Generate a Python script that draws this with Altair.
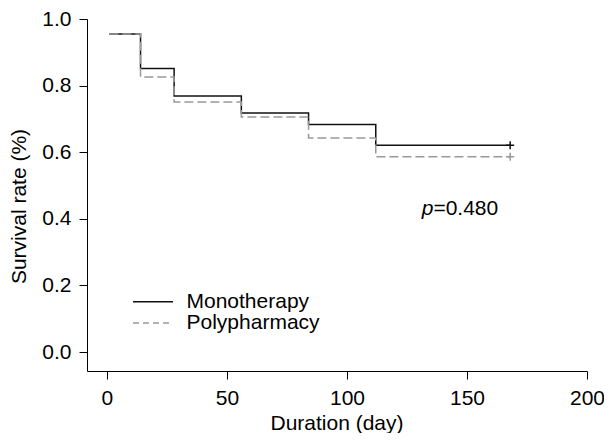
import altair as alt
import pandas as pd

# ---- data ----
days = [1, 14, 28, 56, 84, 112, 168]
mono = [0.955, 0.851, 0.769, 0.718, 0.683, 0.621, 0.621]
poly = [0.955, 0.826, 0.751, 0.706, 0.643, 0.586, 0.586]
groups = ["Monotherapy", "Polypharmacy"]
censor_day = 168
x_ticks = [0, 50, 100, 150, 200]
y_ticks = [0.0, 0.2, 0.4, 0.6, 0.8, 1.0]
p_parts = ["p", "=0.480"]
p_anchor_day = 136
p_anchor_surv = 0.411

FONT = "Liberation Sans"
FS = 21
colors = ["#111111", "#999999"]
dashes = [[1, 0], [9, 4]]

rows = []
for g, vals in zip(groups, [mono, poly]):
    for d, v in zip(days, vals):
        rows.append({"day": d, "surv": v, "group": g})
df = pd.DataFrame(rows)
cens = pd.DataFrame({"day": [censor_day] * 2, "surv": [mono[-1], poly[-1]], "group": groups})

xscale = alt.Scale(domain=[-8.3, 200], nice=False, zero=False)
yscale = alt.Scale(domain=[-0.057, 1.0], nice=False, zero=False)

xaxis = alt.Axis(values=x_ticks, title="Duration (day)", grid=False,
                 domainColor="black", tickColor="black", tickSize=8,
                 labelFontSize=FS, labelFont=FONT, labelColor="black",
                 labelPadding=8, labelFlush=False,
                 titleFont=FONT, titleFontSize=FS, titleFontWeight="normal",
                 titleColor="black", titleBaseline="alphabetic",
                 titleX=249.5, titleY=58)
yaxis = alt.Axis(values=y_ticks, format=".1f", title="Survival rate (%)", grid=False,
                 domainColor="black", tickColor="black", tickSize=8,
                 labelFontSize=FS, labelFont=FONT, labelColor="black",
                 labelPadding=8, labelFlush=False,
                 titleFont=FONT, titleFontSize=FS, titleFontWeight="normal",
                 titleColor="black", titleBaseline="alphabetic",
                 titleX=-61.5, titleY=187)

color_scale = alt.Scale(domain=groups, range=colors)
dash_scale = alt.Scale(domain=groups, range=dashes)

lines = alt.Chart(df).mark_line(interpolate="step-after", strokeWidth=1.5).encode(
    x=alt.X("day:Q", scale=xscale, axis=xaxis),
    y=alt.Y("surv:Q", scale=yscale, axis=yaxis),
    color=alt.Color("group:N", scale=color_scale, legend=None),
    strokeDash=alt.StrokeDash("group:N", scale=dash_scale, legend=None),
)

censor = alt.Chart(cens).mark_point(shape="M-1,0H1M0,-1V1", size=64, filled=False,
                                    strokeWidth=1.5, opacity=1).encode(
    x=alt.X("day:Q", scale=xscale),
    y=alt.Y("surv:Q", scale=yscale),
    color=alt.Color("group:N", scale=color_scale, legend=None),
)

ann = pd.DataFrame({"day": [p_anchor_day], "surv": [p_anchor_surv],
                    "p": [p_parts[0]], "rest": [p_parts[1]]})
p_italic = alt.Chart(ann).mark_text(font=FONT, fontSize=FS, fontStyle="italic",
                                    align="right", baseline="alphabetic", color="black").encode(
    x=alt.X("day:Q", scale=xscale), y=alt.Y("surv:Q", scale=yscale), text="p:N")
p_rest = alt.Chart(ann).mark_text(font=FONT, fontSize=FS, align="left",
                                  baseline="alphabetic", color="black").encode(
    x=alt.X("day:Q", scale=xscale), y=alt.Y("surv:Q", scale=yscale), text="rest:N")

# manual legend (layout in pixels, relative to plot origin)
legend_layers = []
for i, g in enumerate(groups):
    ldf = pd.DataFrame({"label": [g]})
    ly = 282.7 + 21.3 * i
    legend_layers.append(
        alt.Chart(ldf).mark_rule(color=colors[i], strokeDash=[6, 4] if i else [1, 0],
                                 strokeWidth=1.5).encode(
            x=alt.value(46), x2=alt.value(86), y=alt.value(ly)))
    legend_layers.append(
        alt.Chart(ldf).mark_text(font=FONT, fontSize=FS, align="left",
                                 baseline="alphabetic", color="black").encode(
            x=alt.value(99.5), y=alt.value(ly + 6), text="label:N"))

chart = alt.layer(lines, censor, p_italic, p_rest, *legend_layers).properties(
    width=500, height=352,
    padding={"left": 79, "top": 11, "right": 17, "bottom": 62},
    autosize=alt.AutoSizeParams(type="none"),
).configure_view(stroke=None).configure_axis(domainWidth=1, tickWidth=1)

chart.save("out.html", embed_options={"renderer": "svg", "actions": False})
